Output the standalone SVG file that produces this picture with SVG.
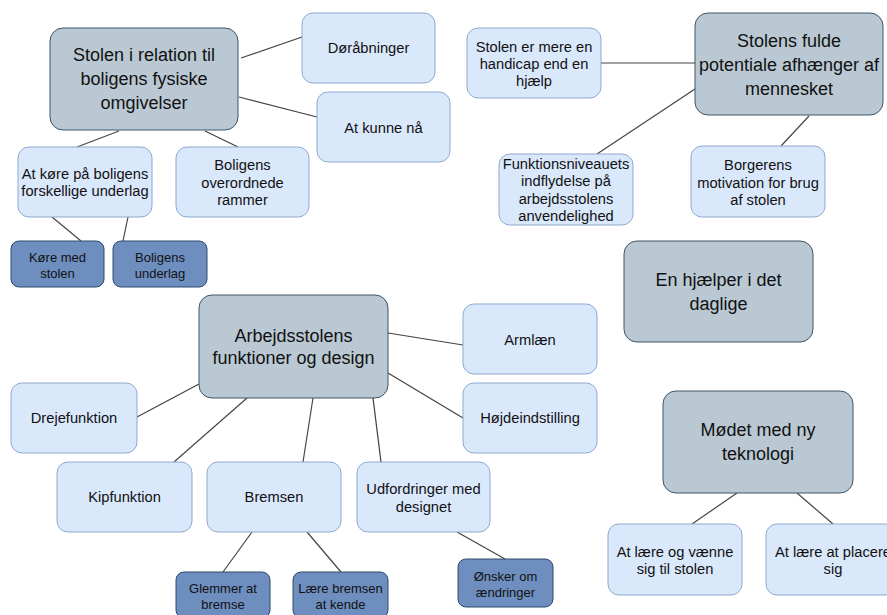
<svg xmlns="http://www.w3.org/2000/svg" width="887" height="615" viewBox="0 0 887 615">
  <style>
    .main rect { fill: #bac8d3; stroke: #3e5566; stroke-width: 1; }
    .sub rect { fill: #dae8fc; stroke: #8fa9cf; stroke-width: 1; }
    .leaf rect { fill: #6d8ebf; stroke: #2f4a6e; stroke-width: 1; }
    text { font-family: "Liberation Sans", Arial, sans-serif; fill: #111; text-anchor: middle; }
    .main text { font-size: 18px; }
    .sub text { font-size: 14.7px; }
    .leaf text { font-size: 13px; }
    #connectors line { stroke: #444; stroke-width: 1.2; }
  </style>
  <rect width="887" height="615" fill="#ffffff"/>

  <g id="connectors">
    <line x1="241" y1="58" x2="302" y2="37"/>
    <line x1="239" y1="97" x2="317" y2="117"/>
    <line x1="119" y1="131" x2="77" y2="147"/>
    <line x1="205" y1="131" x2="238" y2="147"/>
    <line x1="52" y1="217" x2="81" y2="241"/>
    <line x1="128" y1="217" x2="123" y2="241"/>
    <line x1="601" y1="63" x2="695" y2="63"/>
    <line x1="695" y1="89" x2="597" y2="154"/>
    <line x1="809" y1="116" x2="781" y2="146"/>
    <line x1="199" y1="384" x2="137" y2="417"/>
    <line x1="247" y1="398" x2="174" y2="462"/>
    <line x1="313" y1="398" x2="303" y2="462"/>
    <line x1="373" y1="398" x2="381" y2="462"/>
    <line x1="388" y1="333" x2="463" y2="345"/>
    <line x1="388" y1="373" x2="463" y2="418"/>
    <line x1="252" y1="532" x2="223" y2="572"/>
    <line x1="307" y1="532" x2="341" y2="572"/>
    <line x1="457" y1="532" x2="505" y2="559"/>
    <line x1="737" y1="493" x2="692" y2="524"/>
    <line x1="797" y1="493" x2="833" y2="524"/>
  </g>

  <!-- Stolen i relation til boligens fysiske omgivelser -->
  <g id="n-omgivelser" class="main">
    <rect x="50" y="28" width="188" height="102" rx="13"/>
    <text x="144" y="61">Stolen i relation til</text>
    <text x="144" y="85">boligens fysiske</text>
    <text x="144" y="109">omgivelser</text>
  </g>
  <g id="n-doraabninger" class="sub">
    <rect x="302" y="13" width="133" height="70" rx="11"/>
    <text x="368.5" y="53">Døråbninger</text>
  </g>
  <g id="n-kunne-naa" class="sub">
    <rect x="317" y="92" width="133" height="70" rx="11"/>
    <text x="383.5" y="132.5">At kunne nå</text>
  </g>
  <g id="n-koere-underlag" class="sub">
    <rect x="18" y="147" width="134" height="70" rx="11"/>
    <text x="85" y="179">At køre på boligens</text>
    <text x="85" y="196">forskellige underlag</text>
  </g>
  <g id="n-rammer" class="sub">
    <rect x="176" y="147" width="133" height="70" rx="11"/>
    <text x="242.5" y="170">Boligens</text>
    <text x="242.5" y="187.5">overordnede</text>
    <text x="242.5" y="205">rammer</text>
  </g>
  <g id="n-koere-stolen" class="leaf">
    <rect x="11" y="241" width="93" height="46" rx="8"/>
    <text x="57.5" y="261.5">Køre med</text>
    <text x="57.5" y="277.5">stolen</text>
  </g>
  <g id="n-underlag" class="leaf">
    <rect x="113" y="241" width="94" height="46" rx="8"/>
    <text x="160" y="261.5">Boligens</text>
    <text x="160" y="277.5">underlag</text>
  </g>

  <!-- Stolens fulde potentiale afhænger af mennesket -->
  <g id="n-potentiale" class="main">
    <rect x="695" y="13" width="188" height="102" rx="13"/>
    <text x="789" y="47">Stolens fulde</text>
    <text x="789" y="71">potentiale afhænger af</text>
    <text x="789" y="95">mennesket</text>
  </g>
  <g id="n-handicap" class="sub">
    <rect x="467" y="28" width="134" height="70" rx="11"/>
    <text x="534" y="52">Stolen er mere en</text>
    <text x="534" y="69">handicap end en</text>
    <text x="534" y="86">hjælp</text>
  </g>
  <g id="n-funktionsniveau" class="sub">
    <rect x="499" y="154" width="134" height="71" rx="11"/>
    <text x="566" y="168.5">Funktionsniveauets</text>
    <text x="566" y="186">indflydelse på</text>
    <text x="566" y="203.5">arbejdsstolens</text>
    <text x="566" y="221">anvendelighed</text>
  </g>
  <g id="n-motivation" class="sub">
    <rect x="691" y="146" width="134" height="71" rx="11"/>
    <text x="758" y="170">Borgerens</text>
    <text x="758" y="187.5">motivation for brug</text>
    <text x="758" y="205">af stolen</text>
  </g>

  <!-- En hjælper i det daglige -->
  <g id="n-hjaelper" class="main">
    <rect x="624" y="241" width="189" height="101" rx="13"/>
    <text x="718.5" y="286">En hjælper i det</text>
    <text x="718.5" y="310">daglige</text>
  </g>

  <!-- Arbejdsstolens funktioner og design -->
  <g id="n-funktioner" class="main">
    <rect x="199" y="295" width="189" height="103" rx="13"/>
    <text x="293.5" y="342">Arbejdsstolens</text>
    <text x="293.5" y="364">funktioner og design</text>
  </g>
  <g id="n-drejefunktion" class="sub">
    <rect x="11" y="383" width="126" height="70" rx="11"/>
    <text x="74" y="423">Drejefunktion</text>
  </g>
  <g id="n-kipfunktion" class="sub">
    <rect x="57" y="462" width="135" height="70" rx="11"/>
    <text x="124.5" y="502">Kipfunktion</text>
  </g>
  <g id="n-bremsen" class="sub">
    <rect x="207" y="462" width="134" height="70" rx="11"/>
    <text x="274" y="502">Bremsen</text>
  </g>
  <g id="n-udfordringer" class="sub">
    <rect x="357" y="462" width="133" height="70" rx="11"/>
    <text x="423.5" y="494">Udfordringer med</text>
    <text x="423.5" y="511.5">designet</text>
  </g>
  <g id="n-armlaen" class="sub">
    <rect x="463" y="304" width="134" height="70" rx="11"/>
    <text x="530" y="345">Armlæn</text>
  </g>
  <g id="n-hoejde" class="sub">
    <rect x="463" y="383" width="134" height="70" rx="11"/>
    <text x="530" y="423">Højdeindstilling</text>
  </g>
  <g id="n-glemmer" class="leaf">
    <rect x="176" y="572" width="94" height="46" rx="8"/>
    <text x="223" y="592.5">Glemmer at</text>
    <text x="223" y="608.5">bremse</text>
  </g>
  <g id="n-laere-bremsen" class="leaf">
    <rect x="293" y="572" width="95" height="46" rx="8"/>
    <text x="340.5" y="592.5">Lære bremsen</text>
    <text x="340.5" y="608.5">at kende</text>
  </g>
  <g id="n-oensker" class="leaf">
    <rect x="458" y="559" width="95" height="48" rx="8"/>
    <text x="505.5" y="580.5">Ønsker om</text>
    <text x="505.5" y="596.5">ændringer</text>
  </g>

  <!-- Mødet med ny teknologi -->
  <g id="n-teknologi" class="main">
    <rect x="663" y="391" width="190" height="102" rx="13"/>
    <text x="758" y="436">Mødet med ny</text>
    <text x="758" y="460">teknologi</text>
  </g>
  <g id="n-vaenne" class="sub">
    <rect x="608" y="524" width="134" height="71" rx="11"/>
    <text x="675" y="557">At lære og vænne</text>
    <text x="675" y="574">sig til stolen</text>
  </g>
  <g id="n-placere" class="sub">
    <rect x="766" y="524" width="134" height="71" rx="11"/>
    <text x="833" y="557">At lære at placere</text>
    <text x="833" y="574">sig</text>
  </g>
</svg>
